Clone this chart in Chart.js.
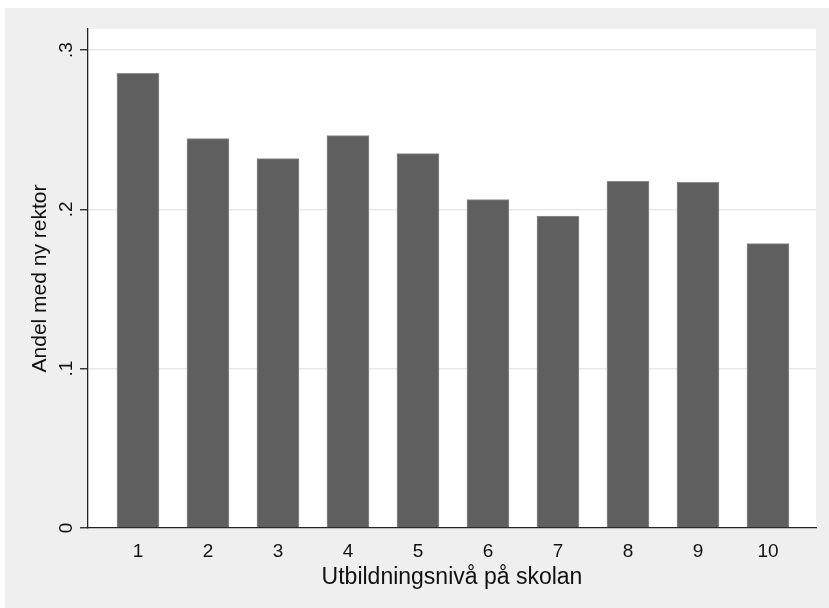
<html>
  <head>
    <title>Andel med ny rektor</title>
    <script type="text/javascript" src="https://cdn.jsdelivr.net/npm/chart.js@4/dist/chart.umd.min.js"></script>
    <style>
      body { margin: 0; background: #ffffff; }
      #wrap { position: absolute; left: 5px; top: 8px; width: 824px; height: 600px; background: #efefef; }
    </style>
  </head>
  <body>
    <div id="wrap">
      <canvas id="RektorChart" width="824" height="600"></canvas>
    </div>
    <script>
      // Utbildningsniva (deciler) och andel skolor med ny rektor
      var categories = [1, 2, 3, 4, 5, 6, 7, 8, 9, 10];
      var shares = [0.2854, 0.2444, 0.2318, 0.2463, 0.2350, 0.2061, 0.1957, 0.2176, 0.2170, 0.1785];
      var yTicks = [0, 0.1, 0.2, 0.3];
      var yTickLabels = ['0', '.1', '.2', '.3'];

      var FONT = "'Liberation Sans', Arial, sans-serif";

      // white plot region like Stata's plotregion
      var plotBg = {
        id: 'plotBg',
        beforeDraw: function(chart) {
          var a = chart.chartArea, c = chart.ctx;
          c.save();
          c.fillStyle = '#ffffff';
          c.fillRect(a.left, a.top, a.right - a.left, a.bottom - a.top);
          c.restore();
        }
      };

      var ctx = document.getElementById('RektorChart').getContext('2d');
      var chart = new Chart(ctx, {
        type: 'bar',
        data: {
          datasets: [{
            label: 'Andel med ny rektor',
            data: categories.map(function(c, i) { return { x: c, y: shares[i] }; }),
            backgroundColor: '#5f5f5f',
            borderColor: '#8c8c8c',
            borderWidth: 1,
            barThickness: 42
          }]
        },
        options: {
          responsive: false,
          animation: false,
          layout: { padding: { left: 0, top: 21, right: 13, bottom: 0 } },
          plugins: {
            legend: { display: false },
            tooltip: { enabled: false }
          },
          scales: {
            x: {
              type: 'linear',
              offset: false,
              min: 0.286,
              max: 10.686,
              afterBuildTicks: function(scale) {
                scale.ticks = categories.map(function(v) { return { value: v }; });
              },
              afterFit: function(scale) { scale.height = 80; },
              grid: { display: true, offset: false, drawOnChartArea: false, drawTicks: false },
              border: { display: true, color: '#222222', width: 1.3 },
              ticks: {
                padding: 12,
                color: '#111111',
                font: { family: FONT, size: 19 },
                maxRotation: 0,
                callback: function(v) { return String(v); }
              },
              title: {
                display: true,
                text: 'Utbildningsnivå på skolan',
                color: '#111111',
                font: { family: FONT, size: 23 },
                padding: { top: 0, bottom: 17 }
              }
            },
            y: {
              min: 0,
              max: 0.3132,
              afterBuildTicks: function(scale) {
                scale.ticks = yTicks.map(function(v) { return { value: v }; });
              },
              afterFit: function(scale) { scale.width = 83; },
              grid: {
                color: '#e8e8e8',
                lineWidth: 1.5,
                tickColor: '#222222',
                tickWidth: 1.3,
                tickLength: 8
              },
              border: { display: true, color: '#222222', width: 1.3 },
              ticks: {
                padding: 5,
                color: '#111111',
                font: { family: FONT, size: 19 },
                minRotation: 90,
                maxRotation: 90,
                crossAlign: 'center',
                callback: function(v, i) { return yTickLabels[i]; }
              },
              title: {
                display: true,
                text: 'Andel med ny rektor',
                color: '#111111',
                font: { family: FONT, size: 21 },
                padding: { top: 23, bottom: 0 }
              }
            }
          }
        },
        plugins: [plotBg]
      });
    </script>
  </body>
</html>
